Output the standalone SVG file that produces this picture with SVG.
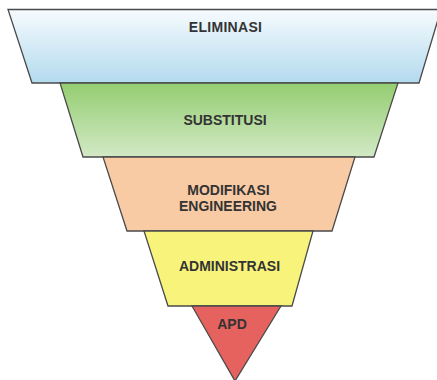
<svg xmlns="http://www.w3.org/2000/svg" width="437" height="380" viewBox="0 0 437 380">
<defs>
<linearGradient id="gBlue" x1="0" y1="0" x2="0" y2="1">
<stop offset="0" stop-color="#f6fbfe"/>
<stop offset="1" stop-color="#b3daee"/>
</linearGradient>
<linearGradient id="gGreen" x1="0" y1="0" x2="0" y2="1">
<stop offset="0" stop-color="#94cd70"/>
<stop offset="1" stop-color="#d2e9c6"/>
</linearGradient>
</defs>
<style>
.band{stroke:#4a4a4a;stroke-width:1.3;stroke-linejoin:miter}
.lbl{font-family:"Liberation Sans",Arial,sans-serif;font-weight:bold;font-size:14px;fill:#333;text-anchor:middle}
</style>
<rect width="437" height="380" fill="#ffffff"/>
<g id="eliminasi">
<polygon class="band" fill="url(#gBlue)" points="8,9.5 441,9.5 419,83 32,83"/>
<text class="lbl" x="225.5" y="31.5" letter-spacing="0.3">ELIMINASI</text>
</g>
<g id="substitusi">
<polygon class="band" fill="url(#gGreen)" points="60,83 398,83 374,157 83,157"/>
<text class="lbl" x="225" y="125">SUBSTITUSI</text>
</g>
<g id="modifikasi">
<polygon class="band" fill="#f9cba4" points="103,157 355,157 332,231 127,231"/>
<text class="lbl" x="228.5" y="194.5">MODIFIKASI</text>
<text class="lbl" x="228" y="210.5">ENGINEERING</text>
</g>
<g id="administrasi">
<polygon class="band" fill="#f8f47b" points="144,231 313,231 292,306 168,306"/>
<text class="lbl" x="229.5" y="270.5">ADMINISTRASI</text>
</g>
<g id="apd">
<polygon class="band" fill="#e6625e" points="192,306 281,306 235,381"/>
<text class="lbl" x="232" y="329">APD</text>
</g>
<g id="connectors"/>
</svg>
